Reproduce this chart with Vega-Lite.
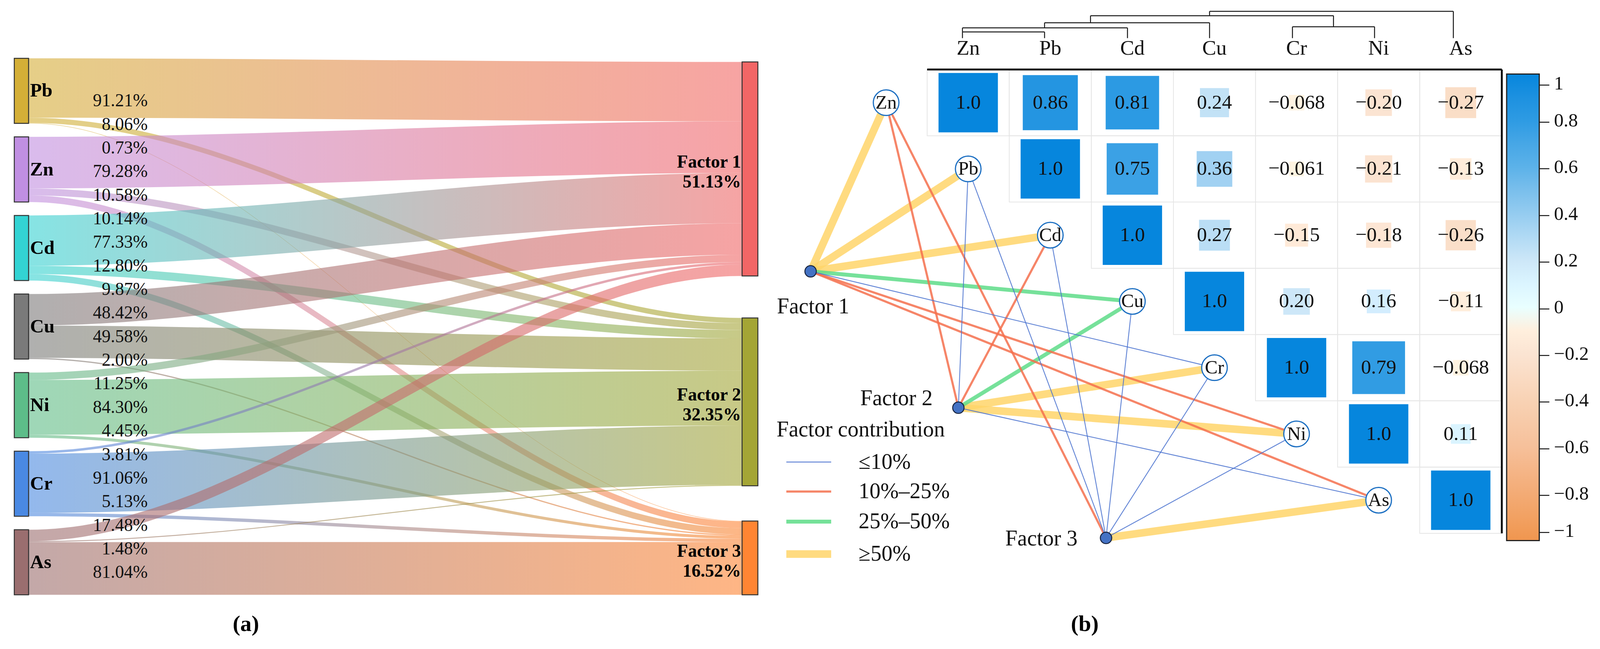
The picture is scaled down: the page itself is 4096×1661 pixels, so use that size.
{
"$schema":"https://vega.github.io/schema/vega-lite/v6.json",
"width":4096,"height":1661,"autosize":{"type":"none"},"padding":0,"background":"white",
"config":{"view":{"stroke":null},"text":{"font":"Liberation Serif","color":"#111111"},"legend":{"labelLimit":600,"titleLimit":900}},
"datasets":{
"flows":[
{"element":"Pb","factor":"Factor 1","pct":91.21},{"element":"Pb","factor":"Factor 2","pct":8.06},{"element":"Pb","factor":"Factor 3","pct":0.73},
{"element":"Zn","factor":"Factor 1","pct":79.28},{"element":"Zn","factor":"Factor 2","pct":10.58},{"element":"Zn","factor":"Factor 3","pct":10.14},
{"element":"Cd","factor":"Factor 1","pct":77.33},{"element":"Cd","factor":"Factor 2","pct":12.80},{"element":"Cd","factor":"Factor 3","pct":9.87},
{"element":"Cu","factor":"Factor 1","pct":48.42},{"element":"Cu","factor":"Factor 2","pct":49.58},{"element":"Cu","factor":"Factor 3","pct":2.00},
{"element":"Ni","factor":"Factor 1","pct":11.25},{"element":"Ni","factor":"Factor 2","pct":84.30},{"element":"Ni","factor":"Factor 3","pct":4.45},
{"element":"Cr","factor":"Factor 1","pct":3.81},{"element":"Cr","factor":"Factor 2","pct":91.06},{"element":"Cr","factor":"Factor 3","pct":5.13},
{"element":"As","factor":"Factor 1","pct":17.48},{"element":"As","factor":"Factor 2","pct":1.48},{"element":"As","factor":"Factor 3","pct":81.04}],
"elements":[
{"element":"Zn","matrixOrder":0,"sankeyOrder":1},{"element":"Pb","matrixOrder":1,"sankeyOrder":0},{"element":"Cd","matrixOrder":2,"sankeyOrder":2},
{"element":"Cu","matrixOrder":3,"sankeyOrder":3},{"element":"Cr","matrixOrder":4,"sankeyOrder":5},{"element":"Ni","matrixOrder":5,"sankeyOrder":4},
{"element":"As","matrixOrder":6,"sankeyOrder":6}],
"factors":[
{"factor":"Factor 1","order":0,"contribution":51.13,"gx":-1.92,"gy":2.546},
{"factor":"Factor 2","order":1,"contribution":32.35,"gx":-0.12,"gy":4.604},
{"factor":"Factor 3","order":2,"contribution":16.52,"gx":1.679,"gy":6.569}],
"corr":[
{"row":"Zn","col":"Zn","r":1},{"row":"Zn","col":"Pb","r":0.86},{"row":"Zn","col":"Cd","r":0.81},{"row":"Zn","col":"Cu","r":0.24},{"row":"Zn","col":"Cr","r":-0.068},{"row":"Zn","col":"Ni","r":-0.20},{"row":"Zn","col":"As","r":-0.27},
{"row":"Pb","col":"Pb","r":1},{"row":"Pb","col":"Cd","r":0.75},{"row":"Pb","col":"Cu","r":0.36},{"row":"Pb","col":"Cr","r":-0.061},{"row":"Pb","col":"Ni","r":-0.21},{"row":"Pb","col":"As","r":-0.13},
{"row":"Cd","col":"Cd","r":1},{"row":"Cd","col":"Cu","r":0.27},{"row":"Cd","col":"Cr","r":-0.15},{"row":"Cd","col":"Ni","r":-0.18},{"row":"Cd","col":"As","r":-0.26},
{"row":"Cu","col":"Cu","r":1},{"row":"Cu","col":"Cr","r":0.20},{"row":"Cu","col":"Ni","r":0.16},{"row":"Cu","col":"As","r":-0.11},
{"row":"Cr","col":"Cr","r":1},{"row":"Cr","col":"Ni","r":0.79},{"row":"Cr","col":"As","r":-0.068},
{"row":"Ni","col":"Ni","r":1},{"row":"Ni","col":"As","r":0.11},
{"row":"As","col":"As","r":1}],
"tree":[
{"left":-0.07,"right":0.93,"height":-1.068,"leftHeight":-0.974,"rightHeight":-0.974},
{"left":-0.07,"right":1.94,"height":-1.129,"leftHeight":-1.068,"rightHeight":-0.974},
{"left":0.93,"right":2.94,"height":-1.206,"leftHeight":-1.129,"rightHeight":-0.974},
{"left":3.95,"right":4.95,"height":-1.146,"leftHeight":-0.974,"rightHeight":-0.974},
{"left":1.49,"right":4.45,"height":-1.312,"leftHeight":-1.206,"rightHeight":-1.146},
{"left":2.94,"right":5.91,"height":-1.378,"leftHeight":-1.312,"rightHeight":-0.974}]
},
"layer":[
{
"data":{"name":"flows"},
"transform":[
{"lookup":"element","from":{"data":{"name":"elements"},"key":"element","fields":["sankeyOrder"]}},
{"lookup":"factor","from":{"data":{"name":"factors"},"key":"factor","fields":["order","contribution"]}},
{"stack":"pct","groupby":[],"sort":[{"field":"sankeyOrder","order":"ascending"},{"field":"order","order":"ascending"}],"as":["s0","s1"]},
{"stack":"pct","groupby":[],"sort":[{"field":"order","order":"ascending"},{"field":"sankeyOrder","order":"ascending"}],"as":["t0","t1"]},
{"calculate":"datum.s0 + 20.73*datum.sankeyOrder","as":"L0"},
{"calculate":"datum.s1 + 20.73*datum.sankeyOrder","as":"L1"},
{"calculate":"datum.order==0 ? 5.63 : datum.order==1 ? 70.13 : 124.33","as":"roff"},
{"calculate":"datum.t0 + datum.roff","as":"R0"},
{"calculate":"datum.t1 + datum.roff","as":"R1"}
],
"layer":[
{
"transform":[
{"calculate":"[0,1,2,3]","as":"pts"},
{"flatten":["pts"]},
{"calculate":"datum.pts==0 ? -0.012 : datum.pts==1 ? 0 : datum.pts==2 ? 1 : 1.012","as":"px"},
{"calculate":"datum.pts<2 ? datum.L0 : datum.R0","as":"py"},
{"calculate":"datum.pts<2 ? datum.L1 : datum.R1","as":"py2"}
],
"encoding":{
"x":{"field":"px","type":"quantitative","scale":{"domain":[-0.040062,2.202363],"nice":false,"zero":false},"axis":null},
"y":{"field":"py","type":"quantitative","scale":{"domain":[-89.577,907.606],"nice":false,"zero":false,"reverse":true},"axis":null,"stack":null},
"y2":{"field":"py2"}
},
"layer":[
{"transform":[{"filter":"datum.element==='Pb'&&datum.factor==='Factor 1'"}],"mark":{"type":"area","interpolate":"monotone","fillOpacity":0.6,"color":{"gradient":"linear","stops":[{"offset":0,"color":"#D4AF37"},{"offset":1,"color":"#F26666"}]}}},
{"transform":[{"filter":"datum.element==='Pb'&&datum.factor==='Factor 2'"}],"mark":{"type":"area","interpolate":"monotone","fillOpacity":0.6,"color":{"gradient":"linear","stops":[{"offset":0,"color":"#D4AF37"},{"offset":1,"color":"#A4A535"}]}}},
{"transform":[{"filter":"datum.element==='Pb'&&datum.factor==='Factor 3'"}],"mark":{"type":"area","interpolate":"monotone","fillOpacity":0.6,"color":{"gradient":"linear","stops":[{"offset":0,"color":"#D4AF37"},{"offset":1,"color":"#FF8533"}]}}},
{"transform":[{"filter":"datum.element==='Zn'&&datum.factor==='Factor 1'"}],"mark":{"type":"area","interpolate":"monotone","fillOpacity":0.6,"color":{"gradient":"linear","stops":[{"offset":0,"color":"#C08FE2"},{"offset":1,"color":"#F26666"}]}}},
{"transform":[{"filter":"datum.element==='Zn'&&datum.factor==='Factor 2'"}],"mark":{"type":"area","interpolate":"monotone","fillOpacity":0.6,"color":{"gradient":"linear","stops":[{"offset":0,"color":"#C08FE2"},{"offset":1,"color":"#A4A535"}]}}},
{"transform":[{"filter":"datum.element==='Zn'&&datum.factor==='Factor 3'"}],"mark":{"type":"area","interpolate":"monotone","fillOpacity":0.6,"color":{"gradient":"linear","stops":[{"offset":0,"color":"#C08FE2"},{"offset":1,"color":"#FF8533"}]}}},
{"transform":[{"filter":"datum.element==='Cd'&&datum.factor==='Factor 1'"}],"mark":{"type":"area","interpolate":"monotone","fillOpacity":0.6,"color":{"gradient":"linear","stops":[{"offset":0,"color":"#33D3D3"},{"offset":1,"color":"#F26666"}]}}},
{"transform":[{"filter":"datum.element==='Cd'&&datum.factor==='Factor 2'"}],"mark":{"type":"area","interpolate":"monotone","fillOpacity":0.6,"color":{"gradient":"linear","stops":[{"offset":0,"color":"#33D3D3"},{"offset":1,"color":"#A4A535"}]}}},
{"transform":[{"filter":"datum.element==='Cd'&&datum.factor==='Factor 3'"}],"mark":{"type":"area","interpolate":"monotone","fillOpacity":0.6,"color":{"gradient":"linear","stops":[{"offset":0,"color":"#33D3D3"},{"offset":1,"color":"#FF8533"}]}}},
{"transform":[{"filter":"datum.element==='Cu'&&datum.factor==='Factor 1'"}],"mark":{"type":"area","interpolate":"monotone","fillOpacity":0.6,"color":{"gradient":"linear","stops":[{"offset":0,"color":"#7A7A7A"},{"offset":1,"color":"#F26666"}]}}},
{"transform":[{"filter":"datum.element==='Cu'&&datum.factor==='Factor 2'"}],"mark":{"type":"area","interpolate":"monotone","fillOpacity":0.6,"color":{"gradient":"linear","stops":[{"offset":0,"color":"#7A7A7A"},{"offset":1,"color":"#A4A535"}]}}},
{"transform":[{"filter":"datum.element==='Cu'&&datum.factor==='Factor 3'"}],"mark":{"type":"area","interpolate":"monotone","fillOpacity":0.6,"color":{"gradient":"linear","stops":[{"offset":0,"color":"#7A7A7A"},{"offset":1,"color":"#FF8533"}]}}},
{"transform":[{"filter":"datum.element==='Ni'&&datum.factor==='Factor 1'"}],"mark":{"type":"area","interpolate":"monotone","fillOpacity":0.6,"color":{"gradient":"linear","stops":[{"offset":0,"color":"#5DBD89"},{"offset":1,"color":"#F26666"}]}}},
{"transform":[{"filter":"datum.element==='Ni'&&datum.factor==='Factor 2'"}],"mark":{"type":"area","interpolate":"monotone","fillOpacity":0.6,"color":{"gradient":"linear","stops":[{"offset":0,"color":"#5DBD89"},{"offset":1,"color":"#A4A535"}]}}},
{"transform":[{"filter":"datum.element==='Ni'&&datum.factor==='Factor 3'"}],"mark":{"type":"area","interpolate":"monotone","fillOpacity":0.6,"color":{"gradient":"linear","stops":[{"offset":0,"color":"#5DBD89"},{"offset":1,"color":"#FF8533"}]}}},
{"transform":[{"filter":"datum.element==='Cr'&&datum.factor==='Factor 1'"}],"mark":{"type":"area","interpolate":"monotone","fillOpacity":0.6,"color":{"gradient":"linear","stops":[{"offset":0,"color":"#4A89E3"},{"offset":1,"color":"#F26666"}]}}},
{"transform":[{"filter":"datum.element==='Cr'&&datum.factor==='Factor 2'"}],"mark":{"type":"area","interpolate":"monotone","fillOpacity":0.6,"color":{"gradient":"linear","stops":[{"offset":0,"color":"#4A89E3"},{"offset":1,"color":"#A4A535"}]}}},
{"transform":[{"filter":"datum.element==='Cr'&&datum.factor==='Factor 3'"}],"mark":{"type":"area","interpolate":"monotone","fillOpacity":0.6,"color":{"gradient":"linear","stops":[{"offset":0,"color":"#4A89E3"},{"offset":1,"color":"#FF8533"}]}}},
{"transform":[{"filter":"datum.element==='As'&&datum.factor==='Factor 1'"}],"mark":{"type":"area","interpolate":"monotone","fillOpacity":0.6,"color":{"gradient":"linear","stops":[{"offset":0,"color":"#9A6E6F"},{"offset":1,"color":"#F26666"}]}}},
{"transform":[{"filter":"datum.element==='As'&&datum.factor==='Factor 2'"}],"mark":{"type":"area","interpolate":"monotone","fillOpacity":0.6,"color":{"gradient":"linear","stops":[{"offset":0,"color":"#9A6E6F"},{"offset":1,"color":"#A4A535"}]}}},
{"transform":[{"filter":"datum.element==='As'&&datum.factor==='Factor 3'"}],"mark":{"type":"area","interpolate":"monotone","fillOpacity":0.6,"color":{"gradient":"linear","stops":[{"offset":0,"color":"#9A6E6F"},{"offset":1,"color":"#FF8533"}]}}}
]
},
{
"transform":[{"aggregate":[{"op":"min","field":"L0","as":"n0"},{"op":"max","field":"L1","as":"n1"}],"groupby":["element"]}],
"mark":{"type":"rect","stroke":"#333333","strokeWidth":2.5},
"encoding":{
"x":{"datum":-0.02003,"type":"quantitative","scale":{"domain":[-0.040062,2.202363],"nice":false,"zero":false},"axis":null},
"x2":{"datum":0},
"y":{"field":"n0","type":"quantitative","scale":{"domain":[-89.577,907.606],"nice":false,"zero":false,"reverse":true},"axis":null},
"y2":{"field":"n1"},
"fill":{"field":"element","type":"nominal","scale":{"domain":["Pb","Zn","Cd","Cu","Ni","Cr","As","Factor 1","Factor 2","Factor 3"],"range":["#D4AF37","#C08FE2","#33D3D3","#7A7A7A","#5DBD89","#4A89E3","#9A6E6F","#F26666","#A4A535","#FF8533"]},"legend":null}
}
},
{
"transform":[{"aggregate":[{"op":"min","field":"R0","as":"n0"},{"op":"max","field":"R1","as":"n1"}],"groupby":["factor"]}],
"mark":{"type":"rect","stroke":"#333333","strokeWidth":2.5},
"encoding":{
"x":{"datum":1.0,"type":"quantitative","scale":{"domain":[-0.040062,2.202363],"nice":false,"zero":false},"axis":null},
"x2":{"datum":1.0221},
"y":{"field":"n0","type":"quantitative","scale":{"domain":[-89.577,907.606],"nice":false,"zero":false,"reverse":true},"axis":null},
"y2":{"field":"n1"},
"fill":{"field":"factor","type":"nominal","scale":{"domain":["Pb","Zn","Cd","Cu","Ni","Cr","As","Factor 1","Factor 2","Factor 3"],"range":["#D4AF37","#C08FE2","#33D3D3","#7A7A7A","#5DBD89","#4A89E3","#9A6E6F","#F26666","#A4A535","#FF8533"]},"legend":null}
}
},
{
"transform":[
{"window":[{"op":"row_number","as":"rank"}],"sort":[{"field":"sankeyOrder","order":"ascending"},{"field":"order","order":"ascending"}]},
{"calculate":"65.5 + 36.23*(datum.rank-1)","as":"ly"},
{"calculate":"format(datum.pct,'.2f') + '%'","as":"lbl"}
],
"mark":{"type":"text","align":"right","baseline":"middle","font":"Liberation Serif","fontSize":45.5,"color":"#111111"},
"encoding":{
"x":{"datum":0.1669,"type":"quantitative","scale":{"domain":[-0.040062,2.202363],"nice":false,"zero":false},"axis":null},
"y":{"field":"ly","type":"quantitative","scale":{"domain":[-89.577,907.606],"nice":false,"zero":false,"reverse":true},"axis":null},
"text":{"field":"lbl"}
}
},
{
"transform":[{"aggregate":[{"op":"min","field":"L0","as":"n0"},{"op":"max","field":"L1","as":"n1"}],"groupby":["element"]},{"calculate":"(datum.n0+datum.n1)/2","as":"c"}],
"mark":{"type":"text","align":"left","baseline":"middle","font":"Liberation Serif","fontWeight":"bold","fontSize":49,"color":"#000000"},
"encoding":{
"x":{"datum":0.0021,"type":"quantitative","scale":{"domain":[-0.040062,2.202363],"nice":false,"zero":false},"axis":null},
"y":{"field":"c","type":"quantitative","scale":{"domain":[-89.577,907.606],"nice":false,"zero":false,"reverse":true},"axis":null},
"text":{"field":"element"}
}
},
{
"transform":[
{"aggregate":[{"op":"min","field":"R0","as":"n0"},{"op":"max","field":"R1","as":"n1"},{"op":"max","field":"contribution","as":"contribution"}],"groupby":["factor"]},
{"calculate":"(datum.n0+datum.n1)/2","as":"c"},
{"calculate":"format(datum.contribution,'.2f') + '%'","as":"clbl"}
],
"encoding":{
"x":{"datum":0.9985,"type":"quantitative","scale":{"domain":[-0.040062,2.202363],"nice":false,"zero":false},"axis":null},
"y":{"field":"c","type":"quantitative","scale":{"domain":[-89.577,907.606],"nice":false,"zero":false,"reverse":true},"axis":null}
},
"layer":[
{"mark":{"type":"text","align":"right","baseline":"middle","font":"Liberation Serif","fontWeight":"bold","fontSize":46,"dy":-17,"color":"#000000"},"encoding":{"text":{"field":"factor"}}},
{"mark":{"type":"text","align":"right","baseline":"middle","font":"Liberation Serif","fontWeight":"bold","fontSize":46,"dy":34,"color":"#000000"},"encoding":{"text":{"field":"clbl"}}}
]
},
{
"data":{"values":[{"t":"(a)"}]},
"mark":{"type":"text","align":"center","baseline":"middle","font":"Liberation Serif","fontWeight":"bold","fontSize":58,"color":"#000000"},
"encoding":{
"x":{"datum":0.3046,"type":"quantitative","scale":{"domain":[-0.040062,2.202363],"nice":false,"zero":false},"axis":null},
"y":{"datum":869.9,"type":"quantitative","scale":{"domain":[-89.577,907.606],"nice":false,"zero":false,"reverse":true},"axis":null},
"text":{"field":"t"}
}
}
]
},
{
"layer":[
{
"data":{"name":"corr"},
"transform":[
{"lookup":"row","from":{"data":{"name":"elements"},"key":"element","fields":["matrixOrder"]},"as":["ri"]},
{"lookup":"col","from":{"data":{"name":"elements"},"key":"element","fields":["matrixOrder"]},"as":["ci"]},
{"calculate":"abs(datum.r)","as":"absr"},
{"calculate":"datum.ci-0.5","as":"x0"},{"calculate":"datum.ci+0.5","as":"x1"},
{"calculate":"datum.ri-0.5","as":"y0"},{"calculate":"datum.ri+0.5","as":"y1"}
],
"layer":[
{"mark":{"type":"rect","filled":false,"stroke":"#E6E6E6","strokeWidth":2},
"encoding":{
"x":{"field":"x0","type":"quantitative","scale":{"domain":[-11.7946,7.6964],"nice":false,"zero":false},"axis":null},
"x2":{"field":"x1"},
"y":{"field":"y0","type":"quantitative","scale":{"domain":[-1.54953,8.24571],"nice":false,"zero":false,"reverse":true},"axis":null},
"y2":{"field":"y1"}}},
{"mark":{"type":"square","filled":true,"opacity":1},
"encoding":{
"x":{"field":"ci","type":"quantitative","scale":{"domain":[-11.7946,7.6964],"nice":false,"zero":false},"axis":null},
"y":{"field":"ri","type":"quantitative","scale":{"domain":[-1.54953,8.24571],"nice":false,"zero":false,"reverse":true},"axis":null},
"size":{"field":"absr","type":"quantitative","scale":{"domain":[0,1],"range":[0,23100]},"legend":null},
"color":{"field":"r","type":"quantitative",
"scale":{"domain":[-1,-0.8,-0.6,-0.4,-0.2,0,0.2,0.4,0.6,0.8,1],"range":["#F0964F","#F3AB75","#F6C09A","#F8D2B4","#FBE4D2","#FFFFFF","#CDE7F8","#95CCF0","#5CB2E9","#2E9BE3","#0686DD"]},
"legend":{"orient":"none","legendX":3857,"legendY":189.5,"direction":"vertical","gradientLength":1194,"gradientThickness":83.5,"gradientStrokeColor":"#222222","gradientStrokeWidth":3,"title":null,"values":[1,0.8,0.6,0.4,0.2,0,-0.2,-0.4,-0.6,-0.8,-1],"labelExpr":"'– ' + format(datum.value,'~g')","labelFont":"Liberation Serif","labelFontSize":49,"labelOffset":1,"labelOverlap":false,"labelBaseline":"middle","labelColor":"#111111","padding":0}}}},
{"mark":{"type":"text","font":"Liberation Serif","fontSize":51.5,"baseline":"middle","align":"center","color":"#111111"},
"encoding":{
"x":{"field":"ci","type":"quantitative","scale":{"domain":[-11.7946,7.6964],"nice":false,"zero":false},"axis":null},
"y":{"field":"ri","type":"quantitative","scale":{"domain":[-1.54953,8.24571],"nice":false,"zero":false,"reverse":true},"axis":null},
"text":{"field":"r","type":"quantitative","format":".2g"}}}
]
},
{
"data":{"values":[{}]},
"layer":[
{"mark":{"type":"rule","color":"#000000","strokeWidth":4.7},
"encoding":{
"x":{"datum":-0.5,"type":"quantitative","scale":{"domain":[-11.7946,7.6964],"nice":false,"zero":false},"axis":null},
"x2":{"datum":6.5},
"y":{"datum":-0.5,"type":"quantitative","scale":{"domain":[-1.54953,8.24571],"nice":false,"zero":false,"reverse":true},"axis":null}}},
{"mark":{"type":"rule","color":"#000000","strokeWidth":4.7},
"encoding":{
"x":{"datum":6.5,"type":"quantitative","scale":{"domain":[-11.7946,7.6964],"nice":false,"zero":false},"axis":null},
"y":{"datum":-0.5,"type":"quantitative","scale":{"domain":[-1.54953,8.24571],"nice":false,"zero":false,"reverse":true},"axis":null},
"y2":{"datum":6.5}}}
]
},
{
"data":{"name":"tree"},
"layer":[
{"mark":{"type":"rule","color":"#1A1A1A","strokeWidth":2.5},
"encoding":{
"x":{"field":"left","type":"quantitative","scale":{"domain":[-11.7946,7.6964],"nice":false,"zero":false},"axis":null},
"x2":{"field":"right"},
"y":{"field":"height","type":"quantitative","scale":{"domain":[-1.54953,8.24571],"nice":false,"zero":false,"reverse":true},"axis":null}}},
{"mark":{"type":"rule","color":"#1A1A1A","strokeWidth":2.5},
"encoding":{
"x":{"field":"left","type":"quantitative","scale":{"domain":[-11.7946,7.6964],"nice":false,"zero":false},"axis":null},
"y":{"field":"leftHeight","type":"quantitative","scale":{"domain":[-1.54953,8.24571],"nice":false,"zero":false,"reverse":true},"axis":null},
"y2":{"field":"height"}}},
{"mark":{"type":"rule","color":"#1A1A1A","strokeWidth":2.5},
"encoding":{
"x":{"field":"right","type":"quantitative","scale":{"domain":[-11.7946,7.6964],"nice":false,"zero":false},"axis":null},
"y":{"field":"rightHeight","type":"quantitative","scale":{"domain":[-1.54953,8.24571],"nice":false,"zero":false,"reverse":true},"axis":null},
"y2":{"field":"height"}}}
]
},
{
"data":{"name":"elements"},
"mark":{"type":"text","font":"Liberation Serif","fontSize":53.5,"baseline":"middle","align":"center","color":"#111111"},
"encoding":{
"x":{"field":"matrixOrder","type":"quantitative","scale":{"domain":[-11.7946,7.6964],"nice":false,"zero":false},"axis":null},
"y":{"datum":-0.819,"type":"quantitative","scale":{"domain":[-1.54953,8.24571],"nice":false,"zero":false,"reverse":true},"axis":null},
"text":{"field":"element"}}
},
{
"data":{"name":"flows"},
"transform":[
{"lookup":"element","from":{"data":{"name":"elements"},"key":"element","fields":["matrixOrder"]}},
{"lookup":"factor","from":{"data":{"name":"factors"},"key":"factor","fields":["gx","gy"]}},
{"calculate":"datum.matrixOrder-1","as":"ex"}
],
"mark":{"type":"rule","opacity":0.85},
"encoding":{
"x":{"field":"gx","type":"quantitative","scale":{"domain":[-11.7946,7.6964],"nice":false,"zero":false},"axis":null},
"y":{"field":"gy","type":"quantitative","scale":{"domain":[-1.54953,8.24571],"nice":false,"zero":false,"reverse":true},"axis":null},
"x2":{"field":"ex"},
"y2":{"field":"matrixOrder"},
"stroke":{"field":"pct","type":"quantitative","scale":{"type":"threshold","domain":[10,25,50],"range":["#4A72CF","#F4704E","#5EDC88","#FFD56A"]},
"legend":{"title":"Factor contribution","orient":"none","legendX":1988,"legendY":1073,"symbolType":"M-1,0H3.1","symbolSize":3136,"labelExpr":"['≤10%','10%–25%','25%–50%','≥50%'][datum.index]","titleFont":"Liberation Serif","titleFontSize":56,"titleFontWeight":"normal","titleColor":"#111111","labelFont":"Liberation Serif","labelFontSize":56,"labelColor":"#111111","labelOffset":119,"symbolOffset":15,"rowPadding":16,"titlePadding":24,"padding":0}},
"strokeWidth":{"field":"pct","type":"quantitative","scale":{"type":"threshold","domain":[10,25,50],"range":[2.3,5.5,10,19.5]},
"legend":{"title":"Factor contribution","orient":"none","legendX":1988,"legendY":1073,"symbolType":"M-1,0H3.1","symbolSize":3136,"labelExpr":"['≤10%','10%–25%','25%–50%','≥50%'][datum.index]","titleFont":"Liberation Serif","titleFontSize":56,"titleFontWeight":"normal","titleColor":"#111111","labelFont":"Liberation Serif","labelFontSize":56,"labelColor":"#111111","labelOffset":119,"symbolOffset":15,"rowPadding":16,"titlePadding":24,"padding":0}},
"order":{"field":"pct","type":"quantitative","sort":"descending"}
}
},
{
"data":{"name":"elements"},
"transform":[{"calculate":"datum.matrixOrder-1","as":"ex"}],
"encoding":{
"x":{"field":"ex","type":"quantitative","scale":{"domain":[-11.7946,7.6964],"nice":false,"zero":false},"axis":null},
"y":{"field":"matrixOrder","type":"quantitative","scale":{"domain":[-1.54953,8.24571],"nice":false,"zero":false,"reverse":true},"axis":null}
},
"layer":[
{"mark":{"type":"circle","size":4301,"fill":"#FFFFFF","stroke":"#1C6FC2","strokeWidth":3,"opacity":1}},
{"mark":{"type":"text","font":"Liberation Serif","fontSize":49,"baseline":"middle","align":"center","color":"#111111"},"encoding":{"text":{"field":"element"}}}
]
},
{
"data":{"name":"factors"},
"encoding":{
"x":{"field":"gx","type":"quantitative","scale":{"domain":[-11.7946,7.6964],"nice":false,"zero":false},"axis":null},
"y":{"field":"gy","type":"quantitative","scale":{"domain":[-1.54953,8.24571],"nice":false,"zero":false,"reverse":true},"axis":null}
},
"layer":[
{"mark":{"type":"circle","size":855,"fill":"#4472C4","stroke":"#18243F","strokeWidth":2.5,"opacity":1}},
{"transform":[{"filter":"datum.factor==='Factor 1'"}],"mark":{"type":"text","font":"Liberation Serif","fontSize":56,"align":"right","baseline":"middle","dx":99,"dy":91,"color":"#111111"},"encoding":{"text":{"field":"factor"}}},
{"transform":[{"filter":"datum.factor==='Factor 2'"}],"mark":{"type":"text","font":"Liberation Serif","fontSize":56,"align":"right","baseline":"middle","dx":-66,"dy":-23,"color":"#111111"},"encoding":{"text":{"field":"factor"}}},
{"transform":[{"filter":"datum.factor==='Factor 3'"}],"mark":{"type":"text","font":"Liberation Serif","fontSize":56,"align":"right","baseline":"middle","dx":-73,"dy":2,"color":"#111111"},"encoding":{"text":{"field":"factor"}}}
]
},
{
"data":{"values":[{"t":"(b)"}]},
"mark":{"type":"text","align":"center","baseline":"middle","font":"Liberation Serif","fontWeight":"bold","fontSize":58,"color":"#000000"},
"encoding":{
"x":{"datum":1.42,"type":"quantitative","scale":{"domain":[-11.7946,7.6964],"nice":false,"zero":false},"axis":null},
"y":{"datum":7.875,"type":"quantitative","scale":{"domain":[-1.54953,8.24571],"nice":false,"zero":false,"reverse":true},"axis":null},
"text":{"field":"t"}}
}
]
}
],
"resolve":{"scale":{"x":"independent","y":"independent"}}
}
